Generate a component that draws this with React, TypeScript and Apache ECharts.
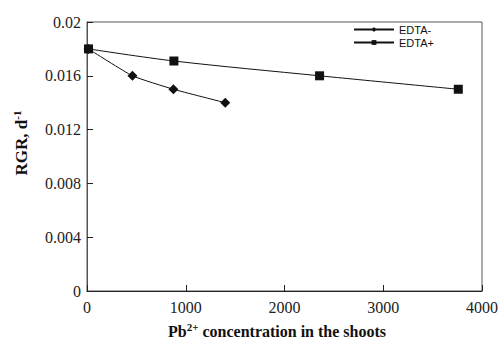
import React, { useEffect, useRef } from "react";
import * as echarts from "echarts";

const edtaMinusX = [15, 460, 875, 1400];
const edtaMinusY = [0.018, 0.016, 0.015, 0.014];
const edtaPlusX = [15, 880, 2355, 3760];
const edtaPlusY = [0.018, 0.0171, 0.016, 0.015];
const xTicks = [0, 1000, 2000, 3000, 4000];
const yTicks = [0, 0.004, 0.008, 0.012, 0.016, 0.02];
const xTitle = "{b|Pb}{sup|2+}{b| concentration in the shoots}";
const yTitle = "{b|RGR, d}{sup|-1}";

export default function App() {
  const ref = useRef<HTMLDivElement>(null);
  useEffect(() => {
    if (!ref.current) return;
    const chart = echarts.init(ref.current, undefined, { renderer: "svg" });
    const serif = "'Liberation Serif', 'Times New Roman', serif";
    const rich = {
      b: { fontFamily: serif, fontSize: 16, fontWeight: "bold", fill: "#111", color: "#111" },
      sup: { fontFamily: serif, fontSize: 11, fontWeight: "bold", verticalAlign: "top", padding: [0, 0, 9, 0], fill: "#111", color: "#111" },
    };
    chart.setOption({
      animation: false,
      backgroundColor: "#fff",
      grid: {
        left: 87,
        top: 22,
        right: 15,
        bottom: 50,
        show: true,
        borderColor: "#555",
        borderWidth: 1,
      },
      graphic: [
        {
          type: "text",
          x: 277,
          y: 331,
          style: { text: xTitle, rich, align: "center", verticalAlign: "middle" },
        },
        {
          type: "text",
          x: 21,
          y: 143,
          rotation: Math.PI / 2,
          style: { text: yTitle, rich: { ...rich, b: { ...rich.b, fontSize: 17 } }, align: "center", verticalAlign: "middle" },
        },
      ],
      legend: {
        orient: "vertical",
        left: 348,
        top: 19,
        itemWidth: 40,
        itemHeight: 6,
        itemGap: 2,
        textStyle: { fontFamily: "'Liberation Sans', Arial, sans-serif", fontSize: 11, color: "#111" },
        data: ["EDTA-", "EDTA+"],
      },
      xAxis: {
        type: "value",
        min: 0,
        max: 4000,
        interval: 1000,
        axisLine: { show: true, lineStyle: { color: "#222", width: 1 } },
        axisTick: { show: true, inside: true, length: 6, lineStyle: { color: "#222" } },
        axisLabel: {
          fontFamily: serif,
          fontSize: 16,
          color: "#222",
          margin: 8,
          formatter: (v: number) => (xTicks.includes(v) ? String(v) : ""),
        },
        splitLine: { show: false },
      },
      yAxis: {
        type: "value",
        min: 0,
        max: 0.02,
        interval: 0.004,
        axisLine: { show: true, lineStyle: { color: "#555", width: 1 } },
        axisTick: { show: true, inside: true, length: 6, lineStyle: { color: "#222" } },
        axisLabel: {
          fontFamily: serif,
          fontSize: 16,
          color: "#222",
          margin: 6,
          formatter: (v: number) => {
            const t = yTicks.find((y) => Math.abs(y - v) < 1e-9);
            return t === undefined ? "" : String(t);
          },
        },
        splitLine: { show: false },
      },
      series: [
        {
          name: "EDTA-",
          type: "line",
          data: edtaMinusX.map((x, i) => [x, edtaMinusY[i]]),
          symbol: "diamond",
          symbolSize: 10,
          smooth: 0.15,
          lineStyle: { color: "#111", width: 1 },
          itemStyle: { color: "#111" },
        },
        {
          name: "EDTA+",
          type: "line",
          data: edtaPlusX.map((x, i) => [x, edtaPlusY[i]]),
          symbol: "rect",
          symbolSize: 9,
          smooth: 0.3,
          lineStyle: { color: "#111", width: 1 },
          itemStyle: { color: "#111" },
        },
      ],
    });
    return () => chart.dispose();
  }, []);
  return <div ref={ref} style={{ width: 501, height: 341, position: "absolute", left: 0, top: 0 }} />;
}
